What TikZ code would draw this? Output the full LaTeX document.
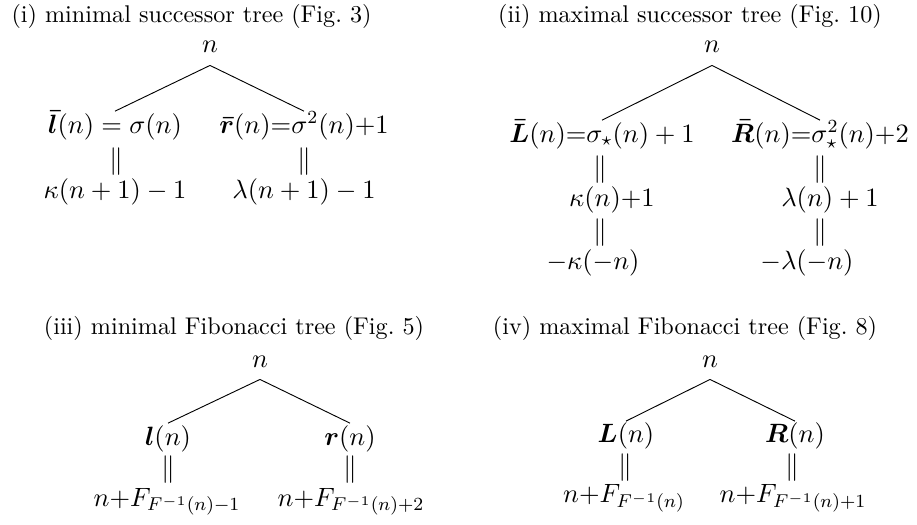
\RequirePackage{fix-cm}
\documentclass[tikz,border=0pt]{standalone}
\usepackage{amsmath}
\usepackage{bm}

\begin{document}
\begin{tikzpicture}[every node/.style={font=\fontsize{11.5}{14}\selectfont},
    root/.style={anchor=base, inner sep=5.2pt},
    kid/.style={anchor=base, inner sep=0pt, text height=9.3pt},
    eqs/.style={inner sep=0pt, font=\fontsize{12}{14}\selectfont},
    ttl/.style={anchor=base, font=\fontsize{10.5}{12.6}\selectfont}]
  \useasboundingbox (0,0) rectangle (14,-8.015);

  \node[ttl] (t1) at (2.924,-0.351) {(i) minimal successor tree (Fig.~3)};
  \node[root] (r1) at (3.206,-0.809) {\(n\)};
  \node[kid] (l1) at (1.756,-2.031) {\(\bm{\bar l}(n) = \sigma(n)\)};
  \node[kid] (g1) at (4.641,-2.031) {\(\bm{\bar r}(n){=}\sigma^2(n){+}1\)};
  \node[eqs] (le1) at (1.771,-2.465) {\(\Vert\)};
  \node[eqs] (ge1) at (4.641,-2.465) {\(\Vert\)};
  \node[kid] (lb1) at (1.756,-3.023) {\(\kappa(n+1)-1\)};
  \node[kid] (gb1) at (4.641,-3.023) {\(\lambda(n+1)-1\)};

  \draw (r1.south) -- (l1.north);
  \draw (r1.south) -- (g1.north);

  \node[ttl] (t2) at (10.534,-0.351) {(ii) maximal successor tree (Fig.~10)};
  \node[root] (r2) at (10.870,-0.809) {\(n\)};
  \node[kid] (l2) at (9.191,-2.168) {\(\bm{\bar L}(n){=}\sigma_\star(n)+1\)};
  \node[kid] (g2) at (12.519,-2.168) {\(\bm{\bar R}(n){=}\sigma_\star^2(n){+}2\)};
  \node[eqs] (le2) at (9.160,-2.595) {\(\Vert\)};
  \node[eqs] (ge2) at (12.519,-2.595) {\(\Vert\)};
  \node[kid] (lm2) at (9.343,-3.145) {\(\kappa(n){+}1\)};
  \node[kid] (gm2) at (12.672,-3.145) {\(\lambda(n)+1\)};
  \node[eqs] (lf2) at (9.160,-3.557) {\(\Vert\)};
  \node[eqs] (gf2) at (12.519,-3.557) {\(\Vert\)};
  \node[kid] (lb2) at (9.053,-4.107) {\(-\kappa(-n)\)};
  \node[kid] (gb2) at (12.320,-4.107) {\(-\lambda(-n)\)};

  \draw (r2.south) -- (l2.north);
  \draw (r2.south) -- (g2.north);

  \node[ttl] (t3) at (3.572,-5.114) {(iii) minimal Fibonacci tree (Fig.~5)};
  \node[root] (r3) at (3.969,-5.603) {\(n\)};
  \node[kid] (l3) at (2.565,-6.794) {\(\bm l(n)\)};
  \node[kid] (g3) at (5.343,-6.794) {\(\bm r(n)\)};
  \node[eqs] (le3) at (2.565,-7.176) {\(\Vert\)};
  \node[eqs] (ge3) at (5.343,-7.176) {\(\Vert\)};
  \node[kid] (lb3) at (2.550,-7.725) {\(n{+}F_{F^{-1}(n)-1}\)};
  \node[kid] (gb3) at (5.359,-7.725) {\(n{+}F_{F^{-1}(n)+2}\)};

  \draw (r3.south) -- (l3.north);
  \draw (r3.south) -- (g3.north);

  \node[ttl] (t4) at (10.458,-5.114) {(iv) maximal Fibonacci tree (Fig.~8)};
  \node[root] (r4) at (10.840,-5.603) {\(n\)};
  \node[kid] (l4) at (9.557,-6.763) {\(\bm L(n)\)};
  \node[kid] (g4) at (12.137,-6.763) {\(\bm R(n)\)};
  \node[eqs] (le4) at (9.542,-7.145) {\(\Vert\)};
  \node[eqs] (ge4) at (12.092,-7.145) {\(\Vert\)};
  \node[kid] (lb4) at (9.527,-7.679) {\(n{+}F_{F^{-1}(n)}\)};
  \node[kid] (gb4) at (12.107,-7.679) {\(n{+}F_{F^{-1}(n)+1}\)};

  \draw (r4.south) -- (l4.north);
  \draw (r4.south) -- (g4.north);
\end{tikzpicture}
\end{document}
